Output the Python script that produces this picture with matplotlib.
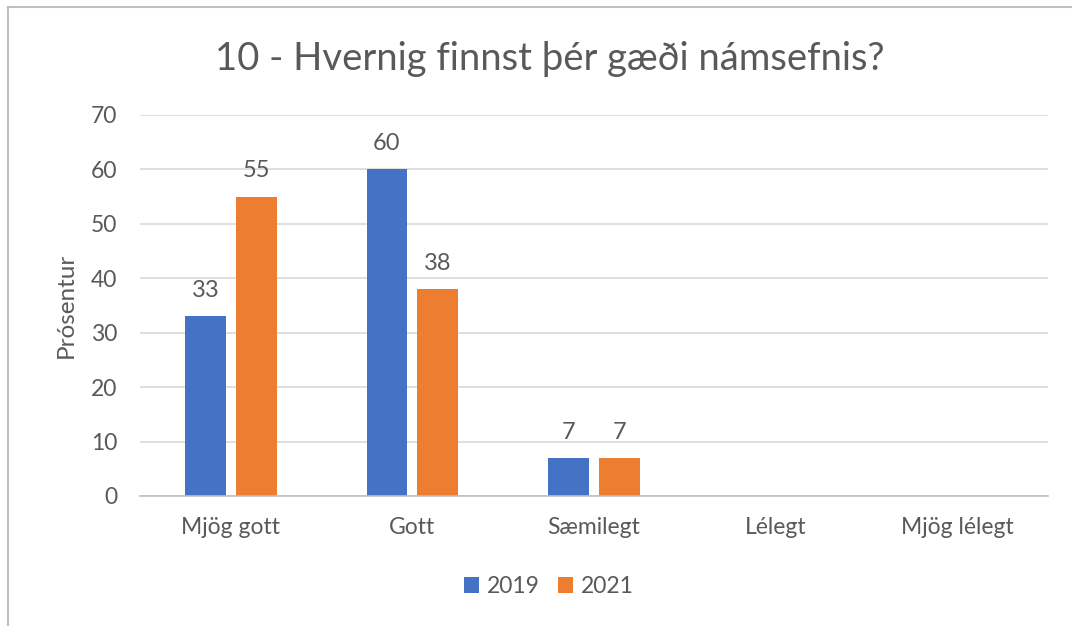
import matplotlib
matplotlib.use("Agg")
import matplotlib.pyplot as plt
from matplotlib.lines import Line2D

categories = ["Mjög gott", "Gott", "Sæmilegt", "Lélegt", "Mjög lélegt"]
series_2019 = [33, 60, 7, None, None]
series_2021 = [55, 38, 7, None, None]
series_names = ["2019", "2021"]
colors = ["#4472C4", "#ED7D31"]
title = "10 - Hvernig finnst þér gæði námsefnis?"
ylabel = "Prósentur"
yticks = [0, 10, 20, 30, 40, 50, 60, 70]

plt.rcParams['font.family'] = ['Lato', 'DejaVu Sans']
txt = "#595959"

fig = plt.figure(figsize=(10.72, 6.26), dpi=100)
ax = fig.add_axes([0.1306, 0.2077, 0.847, 0.6086])

width = 0.225
off = 0.14
x = list(range(len(categories)))
for i, (vals, name, c) in enumerate(zip([series_2019, series_2021], series_names, colors)):
    xs = [xi + (-off if i == 0 else off) for xi in x]
    hv = [v if v is not None else 0 for v in vals]
    bars = ax.bar(xs, hv, width=width, color=c, label=name, zorder=3)
    for b, v in zip(bars, vals):
        if v is not None:
            ax.annotate(str(v), (b.get_x() + b.get_width() / 2, v), xytext=(0, 11),
                        textcoords="offset points", ha="center", va="bottom",
                        fontsize=17, color=txt)

ax.set_xlim(-0.5, len(categories) - 0.5)
ax.set_ylim(0, 70)
ax.set_yticks(yticks)
ax.yaxis.grid(True, color="#d9d9d9", linewidth=1.2, zorder=0)
ax.set_axisbelow(True)
for s in ["top", "right", "left"]:
    ax.spines[s].set_visible(False)
ax.spines["bottom"].set_color("#bfbfbf")
ax.spines["bottom"].set_linewidth(1.2)
ax.spines["bottom"].set_zorder(4)
ax.tick_params(axis="both", length=0, labelsize=16.5, labelcolor=txt)
ax.tick_params(axis="y", pad=16.5)
ax.tick_params(axis="x", pad=15)
ax.set_xticks(x)
ax.set_xticklabels(categories)
ax.set_ylabel(ylabel, fontsize=17.5, color=txt, labelpad=10)

fig.text(0.513, 0.905, title, ha="center", va="center", fontsize=27.5, color=txt)

leg = fig.legend(loc="center", bbox_to_anchor=(0.512, 0.063), ncol=2, frameon=False,
                 fontsize=16.5, handlelength=0.65, handleheight=0.65, handletextpad=0.35,
                 columnspacing=0.8)
for t in leg.get_texts():
    t.set_color(txt)

fig.add_artist(Line2D([8 / 1072, 1], [1 - 7 / 626, 1 - 7 / 626], transform=fig.transFigure,
                      color="#bfbfbf", linewidth=1.5))
fig.add_artist(Line2D([8 / 1072, 8 / 1072], [0, 1 - 7 / 626], transform=fig.transFigure,
                      color="#bfbfbf", linewidth=1.5))

fig.savefig("out.png", dpi=100, facecolor="white")
